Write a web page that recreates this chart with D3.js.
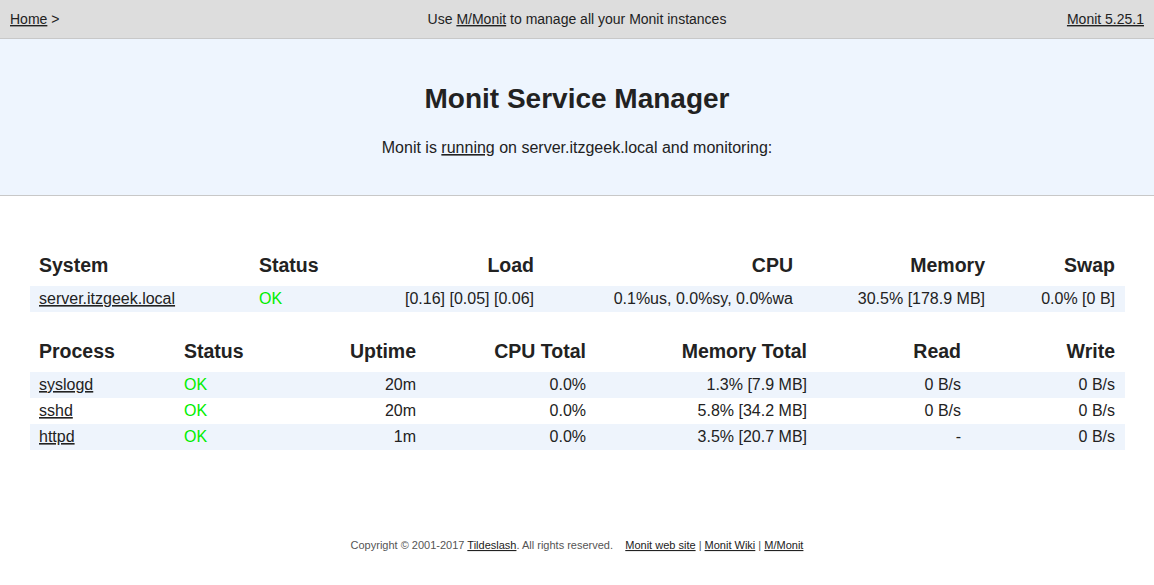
<!DOCTYPE html><html><head><meta charset="utf-8">
<script src="https://cdn.jsdelivr.net/npm/d3@7"></script>
<style>body{margin:0;background:#fff}svg{display:block;font-family:"Liberation Sans",Arial,sans-serif}text{white-space:pre}</style></head><body>
<svg id="c" width="1154" height="585"></svg>
<script>
const sysCols=["System","Status","Load","CPU","Memory","Swap"];
const sysRows=[["server.itzgeek.local","OK","[0.16] [0.05] [0.06]","0.1%us, 0.0%sy, 0.0%wa","30.5% [178.9 MB]","0.0% [0 B]"]];
const procCols=["Process","Status","Uptime","CPU Total","Memory Total","Read","Write"];
const procRows=[
 ["syslogd","OK","20m","0.0%","1.3% [7.9 MB]","0 B/s","0 B/s"],
 ["sshd","OK","20m","0.0%","5.8% [34.2 MB]","0 B/s","0 B/s"],
 ["httpd","OK","1m","0.0%","3.5% [20.7 MB]","-","0 B/s"]];
const sysX=[39,259,534,793,985,1115], sysAnchor=["start","start","end","end","end","end"];
const procX=[39,184,416,586,807,961,1115], procAnchor=["start","start","end","end","end","end","end"];

const svg=d3.select("#c");
svg.append("rect").attr("width",1154).attr("height",38).attr("fill","#dddddd");
svg.append("rect").attr("y",38).attr("width",1154).attr("height",1).attr("fill","#c8c8c8");
svg.append("rect").attr("y",39).attr("width",1154).attr("height",156).attr("fill","#eef5fe");
svg.append("rect").attr("y",195).attr("width",1154).attr("height",1).attr("fill","#c8c8c8");

function txt(x,y,s,o={}){const t=svg.append("text").attr("x",x).attr("y",y).attr("font-size",o.size||16)
 .attr("fill",o.fill||"#222").attr("text-anchor",o.anchor||"start").attr("font-weight",o.bold?"bold":null)
 .attr("text-decoration",o.u?"underline":null).text(s);return t;}
function parts(x,y,arr,size,fill,anchor){const t=svg.append("text").attr("x",x).attr("y",y).attr("font-size",size).attr("fill",fill).attr("text-anchor",anchor);
 arr.forEach(([s,u])=>t.append("tspan").attr("text-decoration",u?"underline":null).attr("fill",u&&size===11?"#222":null).text(s));}
parts(10,24,[["Home",1],[" >",0]],14,"#222","start");
parts(577,24,[["Use ",0],["M/Monit",1],[" to manage all your Monit instances",0]],14,"#222","middle");
parts(1144,24,[["Monit 5.25.1",1]],14,"#222","end");
txt(577,108,"Monit Service Manager",{size:28,bold:1,anchor:"middle"});
parts(577,153,[["Monit is ",0],["running",1],[" on server.itzgeek.local and monitoring:",0]],16,"#222","middle");

function table(cols,rows,xs,anch,hy,ry0){
 cols.forEach((c,i)=>txt(xs[i],hy,c,{size:19.5,bold:1,anchor:anch[i]}));
 rows.forEach((r,j)=>{const top=ry0+j*26;
  if(j%2===0) svg.append("rect").attr("x",30).attr("y",top).attr("width",1095).attr("height",26).attr("fill","#eef4fc");
  r.forEach((v,i)=>txt(xs[i],top+18,v,{anchor:anch[i],u:i===0,fill:i===1?"#00ee00":"#222"}));});
}
table(sysCols,sysRows,sysX,sysAnchor,272,286);
table(procCols,procRows,procX,procAnchor,358,372);

parts(577,549,[["Copyright © 2001-2017 ",0],["Tildeslash",1],[". All rights reserved.    ",0],["Monit web site",1],[" | ",0],["Monit Wiki",1],[" | ",0],["M/Monit",1]],11,"#555","middle");
</script></body></html>
